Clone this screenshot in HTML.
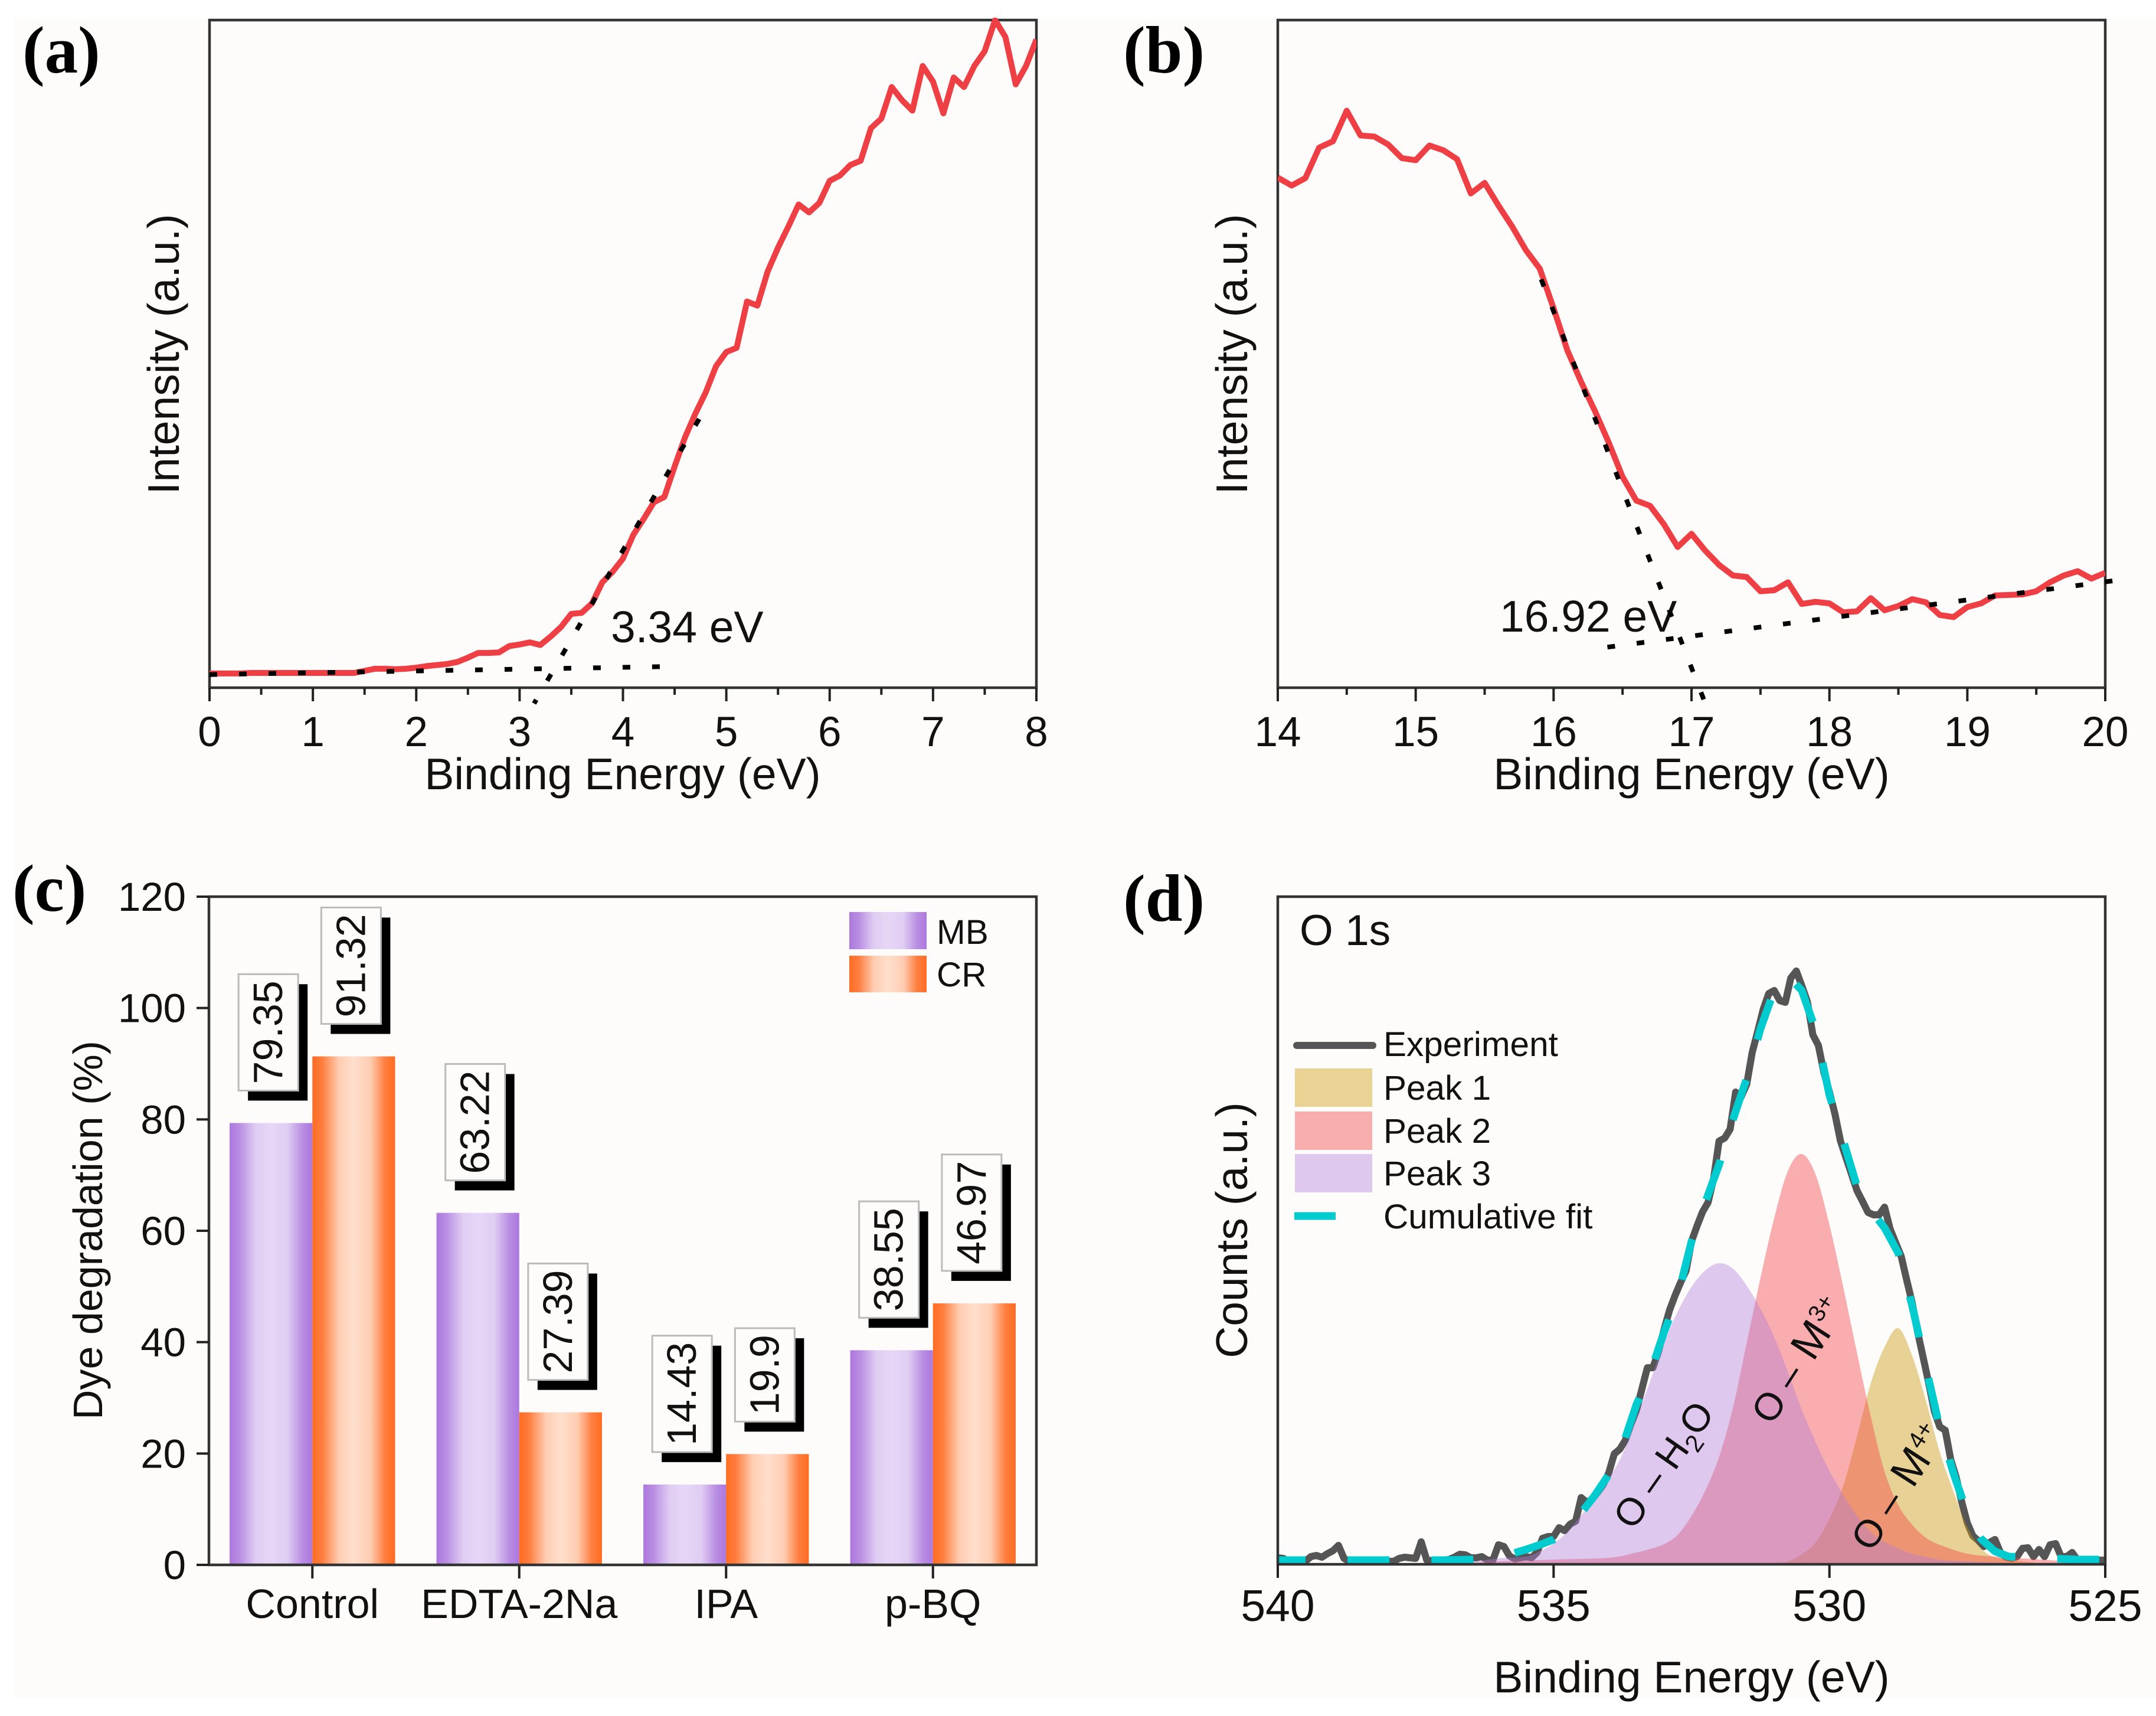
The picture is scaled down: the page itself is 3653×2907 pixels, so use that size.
<!DOCTYPE html>
<html lang="en">
<head>
<meta charset="utf-8">
<title>Binding energy, dye degradation and O 1s charts</title>
<style>
html,body{margin:0;padding:0;background:#fff;width:3653px;height:2907px;overflow:hidden}
svg{display:block}
text{font-family:"Liberation Sans",sans-serif;fill:#111}
.panel-letter{font-family:"Liberation Serif",serif;font-weight:bold;font-size:113px;fill:#000}
.title{font-size:75px}
.legend{font-size:58.5px}
</style>
</head>
<body>
<svg id="fig" xmlns="http://www.w3.org/2000/svg" width="3653" height="2907" viewBox="0 0 3653 2907">
  <defs>
    <linearGradient id="mb-gradient" x1="0" x2="1" y1="0" y2="0">
      <stop offset="0" stop-color="#ac78dd"/><stop offset="0.12" stop-color="#b98de2"/><stop offset="0.32" stop-color="#e0cdf3"/>
      <stop offset="0.5" stop-color="#e7d7f6"/><stop offset="0.7" stop-color="#e0cdf3"/><stop offset="0.88" stop-color="#b98de2"/><stop offset="1" stop-color="#ac78dd"/>
    </linearGradient>
    <linearGradient id="cr-gradient" x1="0" x2="1" y1="0" y2="0">
      <stop offset="0" stop-color="#ff6c22"/><stop offset="0.12" stop-color="#ff7d3e"/><stop offset="0.32" stop-color="#ffcdb2"/>
      <stop offset="0.5" stop-color="#ffdfcd"/><stop offset="0.7" stop-color="#ffcdb2"/><stop offset="0.88" stop-color="#ff7d3e"/><stop offset="1" stop-color="#ff6c22"/>
    </linearGradient>
    <clipPath id="clip-a"><rect x="355" y="30" width="1401" height="1135"/></clipPath>
    <clipPath id="clip-b"><rect x="2165" y="34" width="1402" height="1131"/></clipPath>
    <clipPath id="clip-d"><rect x="2165" y="1519" width="1402" height="1131"/></clipPath>
  </defs>
  <rect x="24" y="32" width="3629" height="2844" fill="#fdfcfb"/>

  <g id="panel-a">
    <text class="panel-letter" x="38" y="123">(a)</text>
    <text class="title" x="1055" y="1337" text-anchor="middle">Binding Energy (eV)</text>
    <text class="title" transform="translate(303,600) rotate(-90)" text-anchor="middle">Intensity (a.u.)</text>
    <text class="title" x="1035" y="1088">3.34 eV</text>
  </g>
  <g id="panel-b">
    <text class="panel-letter" x="1903" y="123">(b)</text>
    <text class="title" x="2866" y="1337" text-anchor="middle">Binding Energy (eV)</text>
    <text class="title" transform="translate(2113,600) rotate(-90)" text-anchor="middle">Intensity (a.u.)</text>
    <text class="title" x="2541" y="1070">16.92 eV</text>
  </g>
  <g id="panel-c">
    <text class="panel-letter" x="21" y="1543">(c)</text>
    <text font-size="70" transform="translate(173,2084) rotate(-90)" text-anchor="middle">Dye degradation (%)</text>
    <rect x="1439" y="1545" width="131" height="63" fill="url(#mb-gradient)"/>
    <text class="legend" x="1587" y="1599">MB</text>
    <rect x="1439" y="1619" width="131" height="62" fill="url(#cr-gradient)"/>
    <text class="legend" x="1587" y="1671">CR</text>
  </g>
  <g id="panel-d">
    <text class="panel-letter" x="1903" y="1560">(d)</text>
    <text class="title" x="2866" y="2867" text-anchor="middle">Binding Energy (eV)</text>
    <text class="title" transform="translate(2113,2084) rotate(-90)" text-anchor="middle">Counts (a.u.)</text>
  </g>
  <g id="panel-d-over">
    <text font-size="73" x="2202" y="1601">O 1s</text>
    <line x1="2197" y1="1771" x2="2326" y2="1771" stroke="#555" stroke-width="12" stroke-linecap="round"/>
    <text class="legend" x="2344" y="1789">Experiment</text>
    <rect x="2194" y="1810" width="131" height="65" fill="#e8d294"/>
    <text class="legend" x="2344" y="1863">Peak 1</text>
    <rect x="2194" y="1883" width="131" height="65" fill="#f9aeae"/>
    <text class="legend" x="2344" y="1936">Peak 2</text>
    <rect x="2194" y="1955" width="131" height="65" fill="#dfc8ee"/>
    <text class="legend" x="2344" y="2008">Peak 3</text>
    <line x1="2193" y1="2060" x2="2263" y2="2060" stroke="#00ccd0" stroke-width="13"/>
    <text class="legend" x="2344" y="2081">Cumulative fit</text>
    <text font-size="65" transform="translate(2767,2594) rotate(-55)">O – H<tspan dy="14" font-size="42">2</tspan><tspan dy="-14">O</tspan></text>
    <text font-size="65" transform="translate(3002,2416) rotate(-57)">O – <tspan dx="6" font-size="72">M</tspan><tspan dy="-26" dx="2" font-size="40">3+</tspan></text>
    <text font-size="65" transform="translate(3171,2631) rotate(-57)">O – <tspan dx="6" font-size="72">M</tspan><tspan dy="-26" dx="2" font-size="40">4+</tspan></text>
  </g>
</svg>
<script>
/* ---- panel (a) data ---- */
const aStart = 0;
const aStep = 0.1;
const aIntensity = [27,27,27,27,28,28,28,28,28,28,28,28,28,28,28,32,36,36,35,36,38,41,43,45,49,57,66,66,67,79,82,86,81,97,115,140,142,160,200,220,245,290,320,352,362,420,475,520,560,610,637,645,733,725,790,835,875,917,902,920,962,972,992,1000,1062,1080,1140,1115,1095,1180,1150,1090,1158,1140,1180,1208,1267,1235,1145,1180,1230];
const aTicks = [0,1,2,3,4,5,6,7,8];
const aBaselineFitX = [0,4.4];
const aBaselineFitY = [25,40];
const aSlopeFitX = [4.737,3.14];
const aSlopeFitY = [510,-30];

/* ---- panel (b) data ---- */
const bStart = 14;
const bStep = 0.1;
const bIntensity = [968,953,967,1025,1037,1095,1048,1046,1031,1005,1001,1029,1020,1003,938,958,915,875,830,795,720,640,580,525,465,400,355,345,310,267,292,260,233,213,210,183,185,200,159,163,160,143,145,170,147,155,168,162,138,134,153,160,175,176,177,183,200,213,221,207,218];
const bTicks = [14,15,16,17,18,19,20];
const bBaselineFitX = [16.39,20.06];
const bBaselineFitY = [77,203];
const bSlopeFitX = [15.91,17.1];
const bSlopeFitY = [775,-30];

/* ---- panel (c) data ---- */
const cCategories = ['Control','EDTA-2Na','IPA','p-BQ'];
const cMB = [79.35,63.22,14.43,38.55];
const cCR = [91.32,27.39,19.9,46.97];
const cTicks = [0,20,40,60,80,100,120];

/* ---- panel (d) data ---- */
const dTicks = [540,535,530,525];
const expStart = 540;
const expStep = -0.1;
const expCounts = [11,10,5,5,5,5,13,15,12,18,23,32,10,5,5,5,5,5,5,5,5,5,10,12,11,10,38,7,6,7,7,8,12,17,16,11,11,13,7,7,33,30,14,9,11,13,11,20,44,47,47,62,57,68,73,113,105,110,122,135,155,187,195,210,237,260,297,333,333,360,397,430,455,477,497,547,573,597,613,653,717,722,737,800,792,813,867,903,940,967,972,955,952,993,1005,980,953,897,879,833,800,763,717,689,661,633,615,596,592,592,605,568,545,522,482,443,393,350,307,260,233,227,177,147,105,70,48,40,30,37,42,20,12,10,13,27,28,13,25,13,33,35,13,13,20,7,7,7,7,7,7];
const peak1Ev = [531.25,531,530.75,530.5,530.25,530,529.75,529.5,529.25,529,528.75,528.5,528.25,528,527.75,527.5,527.25,527,526.5,526,525];
const peak1Counts = [0,2,5,17,37,77,133,217,307,368,400,353,277,190,123,63,27,12,5,1,0];
const peak2Ev = [540,537,536,535,534,533.5,533.25,533,532.75,532.5,532.25,532,531.75,531.5,531.25,531,530.75,530.5,530.25,530,529.75,529.5,529.25,529,528.75,528.5,528.25,528,527.5,527,526.5,526,525.5,525];
const peak2Counts = [0,2,5,8,11,20,26,34,50,82,125,182,265,375,485,587,667,695,660,575,470,358,250,157,100,67,45,33,18,13,10,7,3,0];
const peak3Ev = [540,538,537,536.5,536,535.5,535.25,535,534.75,534.5,534.25,534,533.75,533.5,533.25,533,532.75,532.5,532.25,532,531.75,531.5,531.25,531,530.75,530.5,530.25,530,529.75,529.5,529.25,529,528.75,528.5,528,527.5,527,526.5,526,525];
const peak3Counts = [0,1,3,4,10,13,22,35,55,83,113,145,187,247,310,375,428,470,498,510,501,472,433,385,325,262,207,158,118,82,55,38,27,18,8,5,3,2,1,0];
const fitEv = [540,538,537,536.5,536,535.75,535.5,535.25,535,534.75,534.5,534.25,534,533.75,533.5,533.25,533,532.75,532.5,532.25,532,531.75,531.5,531.25,531,530.75,530.5,530.25,530,529.75,529.5,529.25,529,528.75,528.5,528.25,528,527.75,527.5,527.25,527,526.75,526.5,526,525.5,525];
const fitCounts = [7,7,7,8,12,18,25,33,42,57,87,117,152,200,270,323,393,453,547,613,677,753,823,907,973,997,972,905,795,718,640,600,570,527,438,334,231,154,86,43,22,13,12,10,8,8];

/* ---- helpers ---- */
const NS = 'http://www.w3.org/2000/svg';
function mk(parent, tag, attrs, txt) {
  const e = document.createElementNS(NS, tag);
  for (const k in attrs) e.setAttribute(k, attrs[k]);
  if (txt !== undefined) e.textContent = txt;
  parent.appendChild(e);
  return e;
}
function linear(d0, d1, r0, r1) { return v => r0 + (v - d0) * (r1 - r0) / (d1 - d0); }
function polyPath(xs, ys) { return xs.map((x, i) => (i ? 'L' : 'M') + x.toFixed(1) + ' ' + ys[i].toFixed(1)).join(' '); }
function smoothPath(xs, ys) {
  let d = 'M' + xs[0].toFixed(1) + ' ' + ys[0].toFixed(1);
  for (let i = 0; i < xs.length - 1; i++) {
    const p = Math.max(i - 1, 0), n = Math.min(i + 2, xs.length - 1);
    const c1x = xs[i] + (xs[i + 1] - xs[p]) / 6, c1y = ys[i] + (ys[i + 1] - ys[p]) / 6;
    const c2x = xs[i + 1] - (xs[n] - xs[i]) / 6, c2y = ys[i + 1] - (ys[n] - ys[i]) / 6;
    d += ' C' + c1x.toFixed(1) + ' ' + c1y.toFixed(1) + ' ' + c2x.toFixed(1) + ' ' + c2y.toFixed(1) + ' ' + xs[i + 1].toFixed(1) + ' ' + ys[i + 1].toFixed(1);
  }
  return d;
}
function frame(g, L, R, T, B, name) {
  const r = mk(g, 'rect', {x: L, y: T, width: R - L, height: B - T, fill: 'none', stroke: '#333', 'stroke-width': 4.5});
  
  
}
function xAxis(g, ticks, minors, sx, B, baseline, size, name) {
  ticks.forEach(t => {
    const ln = mk(g, 'line', {x1: sx(t), x2: sx(t), y1: B, y2: B + 23, stroke: '#222', 'stroke-width': 4});
    
    
    const lb = mk(g, 'text', {x: sx(t), y: baseline, 'text-anchor': 'middle', 'font-size': size}, String(t));
    
    
  });
  minors.forEach(t => {
    const ln = mk(g, 'line', {x1: sx(t), x2: sx(t), y1: B, y2: B + 12, stroke: '#222', 'stroke-width': 4});
    
    
  });
}
function spectrum(g, clip, L, R, T, B, dMin, dMax, start, step, values, ticks, fits, name) {
  const sx = linear(dMin, dMax, L, R);
  const sy = linear(0, 1267, B, T);
  frame(g, L, R, T, B, name);
  const minors = ticks.slice(0, -1).map(t => t + 0.5);
  xAxis(g, ticks, minors, sx, B, 1264, 71, name);
  const line = mk(g, 'path', {
    d: polyPath(values.map((v, i) => sx(start + i * step)), values.map(v => sy(v))),
    fill: 'none', stroke: '#ee3f45', 'stroke-width': 10, 'stroke-linejoin': 'round', 'clip-path': 'url(#' + clip + ')'
  });
  
  
  fits.forEach(f => {
    const fl = mk(g, 'path', {
      d: polyPath(f[0].map(sx), f[1].map(sy)),
      fill: 'none', stroke: '#000', 'stroke-width': 8, 'stroke-dasharray': '13 37'
    });
    
    
  });
}

/* ---- panels (a) and (b) ---- */
spectrum(document.getElementById('panel-a'), 'clip-a', 355, 1756, 34, 1165, 0, 8, aStart, aStep, aIntensity, aTicks,
  [[aBaselineFitX, aBaselineFitY], [aSlopeFitX, aSlopeFitY]], 'panel-a');
spectrum(document.getElementById('panel-b'), 'clip-b', 2165, 3567, 34, 1165, 14, 20, bStart, bStep, bIntensity, bTicks,
  [[bBaselineFitX, bBaselineFitY], [bSlopeFitX, bSlopeFitY]], 'panel-b');

/* ---- panel (c) ---- */
(function () {
  const g = document.getElementById('panel-c');
  const L = 354, R = 1756, T = 1519, B = 2651;
  const sy = linear(0, 120, B, T);
  const band = (R - L) / cCategories.length;
  const sx = i => L + band * (i + 0.5);
  const barW = band * 0.4;
  function bar(i, val, off, fillId, name) {
    const r = mk(g, 'rect', {x: sx(i) + off, y: sy(val), width: barW, height: B - sy(val), fill: 'url(#' + fillId + ')'});
    
    
  }
  function label(i, val, off) {
    const cx = sx(i) + off + barW / 2 - 5;
    const bottom = sy(val) - 55;
    const tx = mk(g, 'text', {'font-size': 70, 'text-anchor': 'middle'}, String(val));
    
    
    const h = tx.getComputedTextLength() + 22;
    const top = bottom - h;
    const shadow = mk(g, 'rect', {x: cx - 50 + 16, y: top + 17, width: 101, height: h, fill: '#000'});
    
    
    const box = mk(g, 'rect', {x: cx - 50, y: top, width: 101, height: h, fill: '#fdfcfb', stroke: '#bbb', 'stroke-width': 3});
    
    
    tx.setAttribute('transform', 'translate(' + (cx + 24) + ',' + (top + h / 2) + ') rotate(-90)');
    g.appendChild(tx);
  }
  cCategories.forEach((c, i) => {
    bar(i, cMB[i], -barW, 'mb-gradient', 'bar-mb-' + i);
    bar(i, cCR[i], 0, 'cr-gradient', 'bar-cr-' + i);
  });
  cCategories.forEach((c, i) => {
    label(i, cMB[i], -barW);
    label(i, cCR[i], 0);
    const tick = mk(g, 'line', {x1: sx(i), x2: sx(i), y1: B, y2: B + 23, stroke: '#222', 'stroke-width': 4});
    
    
    const t = mk(g, 'text', {x: sx(i), y: 2741, 'text-anchor': 'middle', 'font-size': 70}, c);
    
    
  });
  frame(g, L, R, T, B, 'panel-c');
  cTicks.forEach(v => {
    const tick = mk(g, 'line', {x1: 333, x2: L, y1: sy(v), y2: sy(v), stroke: '#222', 'stroke-width': 4});
    
    
    const t = mk(g, 'text', {x: 315, y: sy(v) + 24, 'text-anchor': 'end', 'font-size': 69}, String(v));
    
    
  });
})();

/* ---- panel (d) ---- */
(function () {
  const g = document.getElementById('panel-d');
  const L = 2165, R = 3567, T = 1519, B = 2650;
  const sx = linear(540, 525, L, R);
  const sy = v => B - v;
  const exp = mk(g, 'path', {
    d: polyPath(expCounts.map((v, i) => sx(expStart + i * expStep)), expCounts.map(sy)),
    fill: 'none', stroke: '#555', 'stroke-width': 12, 'stroke-linejoin': 'round', 'clip-path': 'url(#clip-d)'
  });
  
  
  function peak(evs, counts, color, alpha, name) {
    const xs = evs.map(sx), ys = counts.map(sy);
    const d = smoothPath(xs, ys) + ' L' + xs[xs.length - 1].toFixed(1) + ' ' + B + ' L' + xs[0].toFixed(1) + ' ' + B + ' Z';
    const p = mk(g, 'path', {d: d, fill: color, 'fill-opacity': alpha});
    
    
  }
  peak(peak1Ev, peak1Counts, '#cc9a0b', 0.43, 'peak-1-area');
  peak(peak2Ev, peak2Counts, '#f34648', 0.43, 'peak-2-area');
  peak(peak3Ev, peak3Counts, '#b27ada', 0.4, 'peak-3-area');
  const fit = mk(g, 'path', {
    d: polyPath(fitEv.map(sx), fitCounts.map(sy)),
    fill: 'none', stroke: '#00ccd0', 'stroke-width': 13, 'clip-path': 'url(#clip-d)'
  });
  
  
  /* align the dash rhythm so a dash ends just left of the spectrum apex */
  const total = fit.getTotalLength();
  let lenAtApexSide = total / 2;
  for (let s = 0; s < total; s += 1) {
    if (fit.getPointAtLength(s).x >= 3000) { lenAtApexSide = s; break; }
  }
  const firstDashEnd = 47;
  const periods = Math.round((lenAtApexSide - firstDashEnd) / 142);
  const period = (lenAtApexSide - firstDashEnd) / periods;
  fit.setAttribute('stroke-dasharray', (period / 2).toFixed(2) + ' ' + (period / 2).toFixed(2));
  fit.setAttribute('stroke-dashoffset', (period / 2 - firstDashEnd).toFixed(2));
  frame(g, L, R, T, B, 'panel-d');
  xAxis(g, dTicks, [], sx, B, 2746, 75, 'panel-d');
})();
</script>
</body>
</html>
